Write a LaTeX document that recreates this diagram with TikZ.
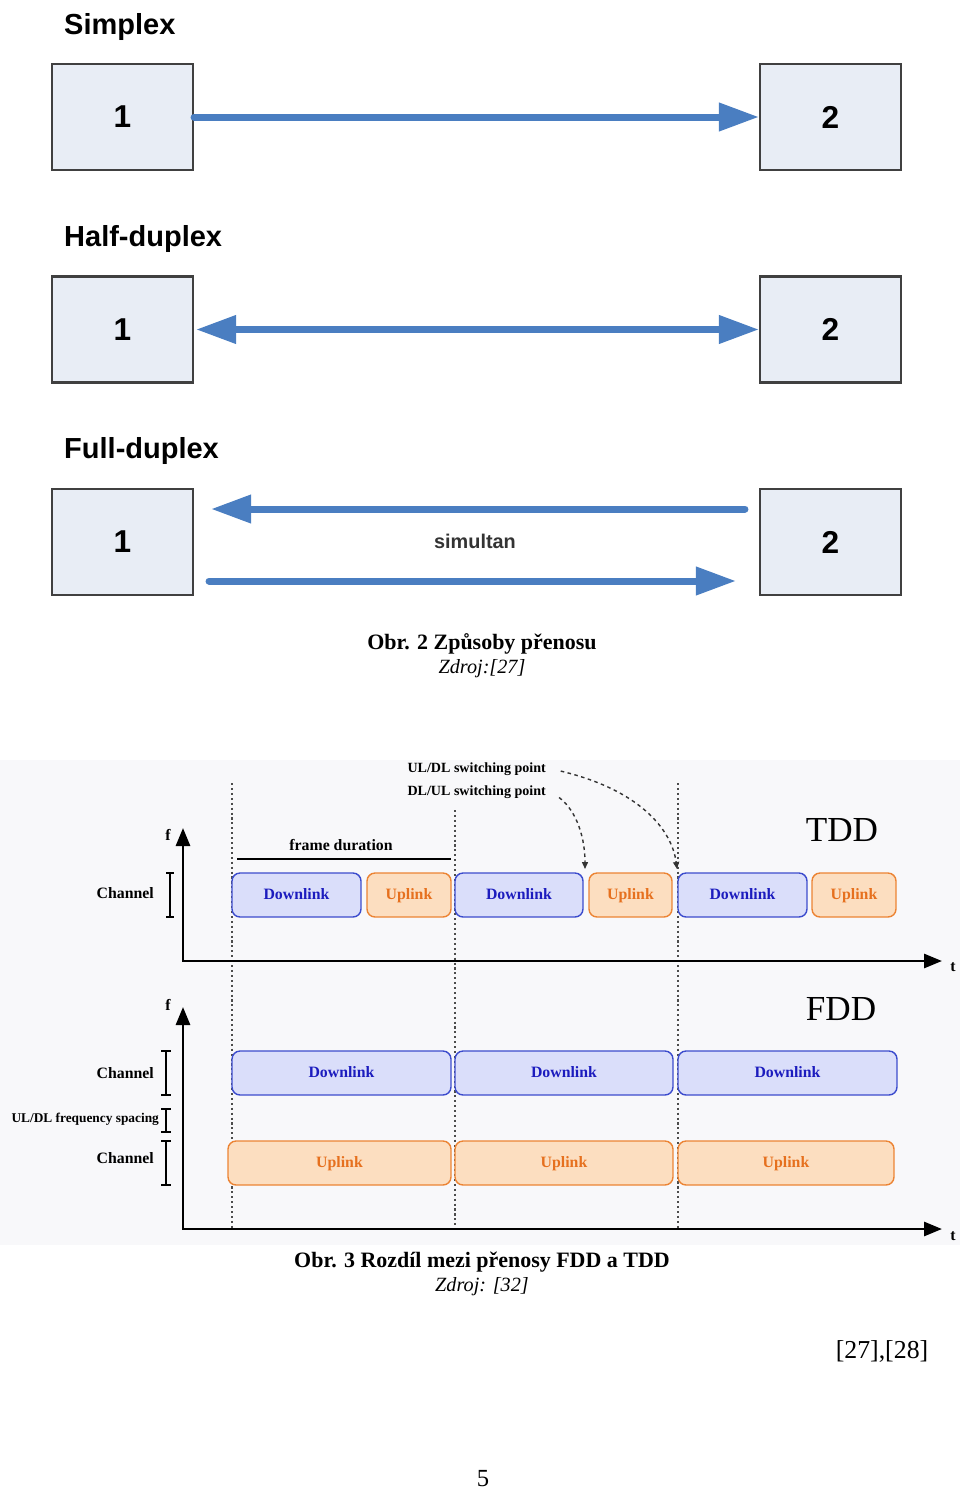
\documentclass[tikz,border=0pt]{standalone}
\usepackage{fontspec}
\setmainfont{Liberation Serif}
\setsansfont{Liberation Sans}
\usetikzlibrary{arrows.meta}
\definecolor{boxgray}{RGB}{232,237,245}
\definecolor{arrblue}{RGB}{74,126,193}
\definecolor{dlfill}{RGB}{218,222,250}
\definecolor{dldraw}{RGB}{60,76,205}
\definecolor{dltext}{RGB}{28,28,190}
\definecolor{ulfill}{RGB}{252,222,192}
\definecolor{uldraw}{RGB}{236,132,52}
\definecolor{ultext}{RGB}{230,112,30}
\definecolor{bggray}{RGB}{248,248,250}
\tikzset{
  station/.style={draw=black!75, line width=1.2pt, fill=boxgray, minimum width=2.82cm, minimum height=2.12cm, font=\sffamily\bfseries\fontsize{18}{18}\selectfont},
  mode/.style={anchor=west, font=\sffamily\bfseries\fontsize{16.5}{16.5}\selectfont},
  link/.style={arrblue, line width=0.14cm, line cap=round, -{Triangle[length=0.8cm,width=0.54cm]}},
  dl/.style={draw=dldraw, fill=dlfill, rounded corners=0.16cm, line width=0.8pt, minimum height=0.88cm, inner sep=0pt, text height=1.5ex, text depth=0.45ex, text=dltext, font=\bfseries\fontsize{9}{9}\selectfont},
  ul/.style={draw=uldraw, fill=ulfill, rounded corners=0.16cm, line width=0.8pt, minimum height=0.88cm, inner sep=0pt, text height=1.5ex, text depth=0.45ex, text=ultext, font=\bfseries\fontsize{9}{9}\selectfont},
  axis/.style={line width=1.6pt, {Triangle[length=0.36cm,width=0.28cm]}-{Triangle[length=0.36cm,width=0.28cm]}},
  guide/.style={black!70, line width=0.9pt, dash pattern=on 1.2pt off 1.6pt},
  brk/.style={line width=0.8pt},
  lbl/.style={font=\bfseries\fontsize{9}{9}\selectfont},
  small/.style={font=\bfseries\fontsize{8}{8}\selectfont},
  swarrow/.style={black!80, line width=0.8pt, dash pattern=on 2pt off 2pt, -{Triangle[length=0.14cm,width=0.12cm]}},
  captext/.style={font=\bfseries\fontsize{12.5}{15}\selectfont},
  srctext/.style={font=\itshape\fontsize{11.5}{14}\selectfont}
}
\begin{document}
\begin{tikzpicture}[x=0.02cm, y=-0.02cm]
\useasboundingbox (0,0) rectangle (960,1491);

\node[mode] (simplex) at (58,27) {Simplex};
\node[station] (s1) at (122.5,117) {1};
\node[station] (s2) at (830.5,117) {2};
\draw[link] (s1.east) -- (s2.west);

\node[mode] (half) at (58,239) {Half-duplex};
\node[station] (h1) at (122.5,329.5) {1};
\node[station] (h2) at (830.5,329.5) {2};
\draw[link, {Triangle[length=0.8cm,width=0.54cm]}-{Triangle[length=0.8cm,width=0.54cm]}, shorten <=0.04cm] (h1.east) -- (h2.west);

\node[mode] (full) at (58,451) {Full-duplex};
\node[station] (f1) at (122.5,542) {1};
\node[station] (f2) at (830.5,542) {2};
\draw[link, shorten <=0.28cm, shorten >=0.34cm] ([yshift=0.66cm]f2.west) -- ([yshift=0.66cm]f1.east);
\draw[link, shorten <=0.3cm, shorten >=0.46cm] ([yshift=-0.78cm]f1.east) -- ([yshift=-0.78cm]f2.west);
\node[font=\sffamily\bfseries\fontsize{11.3}{11.3}\selectfont, text=black!80] (sim) at (475,541) {simultan};

\node[captext] (cap1) at (482,644) {Obr. 2 Způsoby přenosu};
\node[srctext] (src1) at (482,669) {Zdroj:[27]};

\fill[bggray] (0,760) rectangle (960,1245);

\draw[guide] (232,783) -- (232,1230);
\draw[guide] (455,810) -- (455,1230);
\draw[guide] (678,783) -- (678,1230);

\coordinate (o1) at (183,961);
\coordinate (f1top) at (183,828);
\coordinate (t1end) at (942,961);
\draw[axis] (f1top) -- (o1) -- (t1end);
\node[lbl] (fa) at (168,835) {f};
\node[lbl] (ta) at (953,967) {t};
\node[font=\fontsize{20}{20}\selectfont] (tdd) at (842,830) {TDD};

\draw[line width=0.8pt] (237,859) -- (451,859);
\node[lbl] (frame) at (341,845) {frame duration};

\draw[brk] (166,873) -- (174,873) (170,873) -- (170,917) (166,917) -- (174,917);
\node[lbl, anchor=east] (ch0) at (160,893) {Channel};

\node[dl, minimum width=2.58cm] (d1) at (296.5,895) {Downlink};
\node[ul, minimum width=1.68cm] (u1) at (409,895) {Uplink};
\node[dl, minimum width=2.56cm] (d2) at (519,895) {Downlink};
\node[ul, minimum width=1.66cm] (u2) at (630.5,895) {Uplink};
\node[dl, minimum width=2.58cm] (d3) at (742.5,895) {Downlink};
\node[ul, minimum width=1.68cm] (u3) at (854,895) {Uplink};

\node[small, anchor=east] (sw1) at (552,769) {UL/DL switching point};
\node[small, anchor=east] (sw2) at (552,792) {DL/UL switching point};
\coordinate (sp1) at (677,869);
\coordinate (sp2) at (585,869);
\draw[swarrow, shorten <=0.18cm] (sw1.east) .. controls (640,790) and (672,830) .. (sp1);
\draw[swarrow, shorten <=0.18cm] (sw2.east) .. controls (578,812) and (585,840) .. (sp2);

\coordinate (o2) at (183,1229);
\coordinate (f2top) at (183,1007);
\coordinate (t2end) at (942,1229);
\draw[axis] (f2top) -- (o2) -- (t2end);
\node[lbl] (fb) at (168,1005) {f};
\node[lbl] (tb) at (953,1236) {t};
\node[font=\fontsize{20}{20}\selectfont] (fdd) at (841,1009) {FDD};

\draw[brk] (161,1051) -- (171,1051) (166,1051) -- (166,1095) (161,1095) -- (171,1095);
\draw[brk] (161,1109) -- (171,1109) (166,1109) -- (166,1132) (161,1132) -- (171,1132);
\draw[brk] (161,1141) -- (171,1141) (166,1141) -- (166,1185) (161,1185) -- (171,1185);
\node[lbl, anchor=east] (ch1) at (160,1073) {Channel};
\node[small, anchor=east, inner sep=1pt, font=\bfseries\fontsize{7.6}{7.6}\selectfont] (spc) at (161,1119) {UL/DL frequency spacing};
\node[lbl, anchor=east] (ch2) at (160,1158) {Channel};

\node[dl, minimum width=4.38cm] (fd1) at (341.5,1073) {Downlink};
\node[dl, minimum width=4.36cm] (fd2) at (564,1073) {Downlink};
\node[dl, minimum width=4.38cm] (fd3) at (787.5,1073) {Downlink};
\node[ul, minimum width=4.46cm] (fu1) at (339.5,1163) {Uplink};
\node[ul, minimum width=4.36cm] (fu2) at (564,1163) {Uplink};
\node[ul, minimum width=4.32cm] (fu3) at (786,1163) {Uplink};

\node[captext] (cap2) at (482,1262) {Obr. 3 Rozdíl mezi přenosy FDD a TDD};
\node[srctext] (src2) at (482,1287) {Zdroj: [32]};
\node[font=\fontsize{14.7}{16}\selectfont] (refs) at (882,1352) {[27],[28]};
\node[font=\fontsize{14}{16}\selectfont] (page) at (483,1479) {5};
\end{tikzpicture}
\end{document}
